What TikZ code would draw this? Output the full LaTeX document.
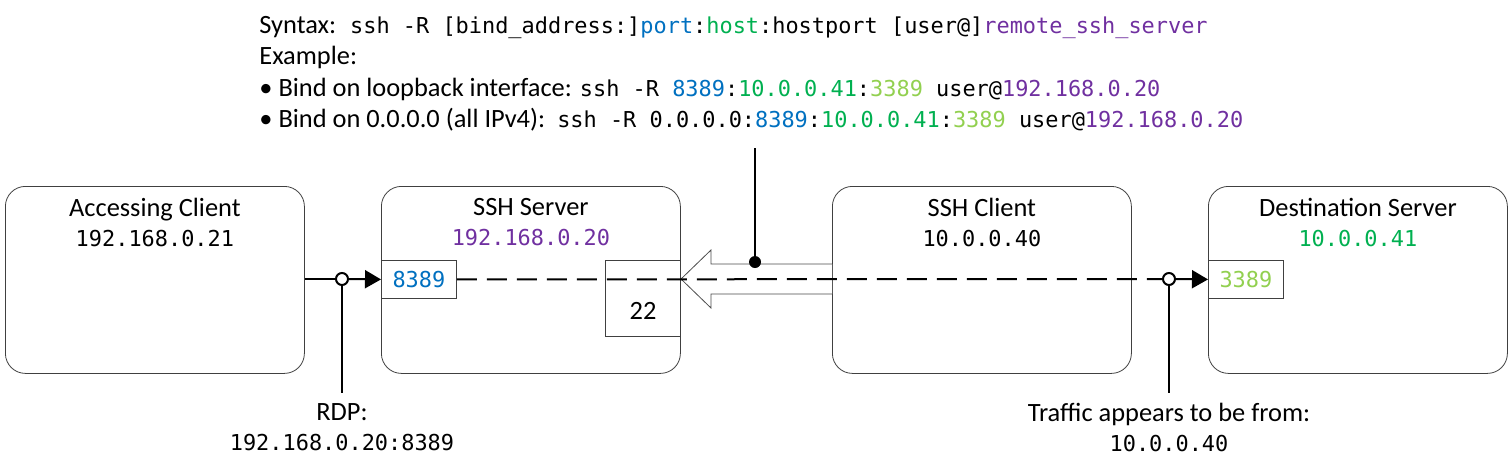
\documentclass[tikz,border=0pt]{standalone}
\usepackage{fontspec}
\setmainfont{Carlito}
\setmonofont{DejaVu Sans Mono}[Scale=0.83]
\usetikzlibrary{arrows.meta,positioning}
\definecolor{portblue}{RGB}{0,112,192}
\definecolor{hostgreen}{RGB}{0,176,80}
\definecolor{hpgreen}{RGB}{146,208,80}
\definecolor{srvpurple}{RGB}{112,48,160}
\begin{document}
\begin{tikzpicture}[x=0.5pt,y=-0.5pt]
		\tikzset{host/.style = {draw=black!75,rounded corners=10pt,minimum width=149.5pt,minimum height=93.5pt,anchor=north west,inner sep=0pt}}
		\tikzset{port/.style = {draw=black!75,anchor=north west,minimum width=37.5pt,inner sep=0pt,font=\fontsize{13.2}{15}\ttfamily}}
		\tikzset{title/.style = {align=center,inner sep=0pt,font=\fontsize{13.2}{15}\selectfont}}
		\tikzset{ring/.style = {circle,draw,line width=1pt,fill=white,minimum size=6pt,inner sep=0pt}}
		\tikzset{dot/.style = {circle,fill,minimum size=6pt,inner sep=0pt}}
		\tikzset{flow/.style = {-{Triangle[length=8pt,width=9pt]},line width=1pt}}
		\useasboundingbox (0,0) rectangle (1512,472);
		% command line
		\node[anchor=north west,align=left,inner sep=0pt,font=\fontsize{13.2}{15.7}\selectfont] (cmd) at (259,16)
			{Syntax:\hspace{7pt}\texttt{ssh -R [bind\_address:]\textcolor{portblue}{port}:\textcolor{hostgreen}{host}:hostport [user@]\textcolor{srvpurple}{remote\_ssh\_server}}\\
			Example:\\
			\textbullet{} Bind on loopback interface:\hspace{4pt}\texttt{ssh -R \textcolor{portblue}{8389}:\textcolor{hostgreen}{10.0.0.41}:\textcolor{hpgreen}{3389} user@\textcolor{srvpurple}{192.168.0.20}}\\
			\textbullet{} Bind on 0.0.0.0 (all IPv4):\hspace{6pt}\texttt{ssh -R 0.0.0.0:\textcolor{portblue}{8389}:\textcolor{hostgreen}{10.0.0.41}:\textcolor{hpgreen}{3389} user@\textcolor{srvpurple}{192.168.0.20}}};
		% hosts
		\node[host] (ac) at (5,186) {};
		\node[host] (ss) at (381,186) {};
		\node[host] (sc) at (832,186) {};
		\node[host] (ds) at (1208,186) {};
		\node[title,below=6pt of ac.north] (act) {Accessing Client\\\texttt{192.168.0.21}};
		\node[title,below=6pt of ss.north] (sst) {SSH Server\\\texttt{\textcolor{srvpurple}{192.168.0.20}}};
		\node[title,below=6pt of sc.north] (sct) {SSH Client\\\texttt{10.0.0.40}};
		\node[title,below=6pt of ds.north] (dst) {Destination Server\\\texttt{\textcolor{hostgreen}{10.0.0.41}}};
		% ports
		\node[port,minimum height=19pt,text=portblue] (p8389) at (381,260) {8389};
		\node[port,minimum height=38pt] (p22) at (605,260) {};
		\node[title] (p22t) at (643,311) {22};
		\node[port,minimum height=19pt,text=hpgreen] (p3389) at (1208,260) {3389};
		% tunnel
		\draw[draw=black!70,fill=white] (832,264) -- (711,264) -- (711,250) -- (681,279) -- (711,308) -- (711,294) -- (832,294);
		\node[dot] (tun) at (755,262) {};
		\coordinate (tuntop) at (755,148);
		\draw[line width=1pt] (tuntop) -- (tun);
		% traffic
		\node[ring] (rdp) at (342,279) {};
		\node[ring] (src) at (1169,279) {};
		\coordinate (rdpend) at (342,393);
		\coordinate (srcend) at (1169,393);
		\draw[line width=1pt] (ac.east |- rdp) -- (rdp);
		\draw[flow] (rdp) -- (p8389.west);
		\draw[line width=1pt,dash pattern=on 10pt off 5pt] (p8389.east) -- (src);
		\draw[flow] (src) -- (p3389.west);
		\draw[line width=1pt] (rdp) -- (rdpend);
		\draw[line width=1pt] (src) -- (srcend);
		\node[title,below=5pt of rdpend] (rdpt) {RDP:\\\texttt{192.168.0.20:8389}};
		\node[title,below=5pt of srcend] (srct) {Traffic appears to be from:\\\texttt{10.0.0.40}};
	\end{tikzpicture}
\end{document}
